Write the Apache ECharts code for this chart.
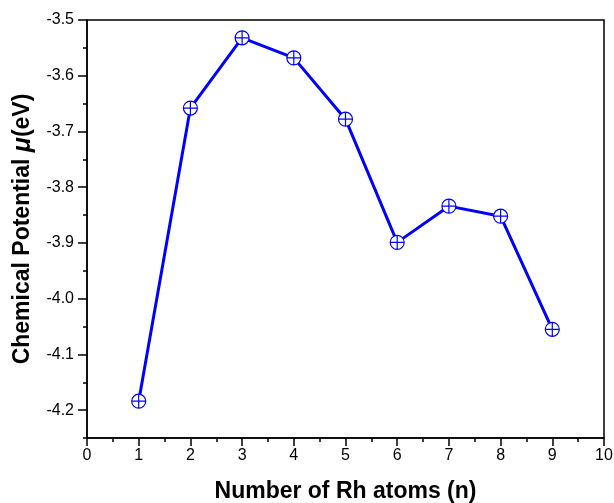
<!DOCTYPE html>
<html>
<head>
<meta charset="utf-8">
<script src="https://cdn.jsdelivr.net/npm/echarts@6/dist/echarts.min.js"></script>
<style>
  html, body { margin: 0; padding: 0; background: #fff; }
  #chart { width: 614px; height: 503px; }
</style>
</head>
<body>
<div id="chart"></div>
<script>
// data
const atoms = [1, 2, 3, 4, 5, 6, 7, 8, 9];
const potential = [-4.184, -3.658, -3.532, -3.568, -3.678, -3.899, -3.834, -3.852, -4.055];

// y tick positions
const yMajorTicks = [-4.2, -4.1, -4.0, -3.9, -3.8, -3.7, -3.6, -3.5];
const yMinorTicks = [-4.25, -4.15, -4.05, -3.95, -3.85, -3.75, -3.65, -3.55];

const font = 'Arial, "Liberation Sans", sans-serif';
const blue = '#0000ff';

// circle with a cross inside
const crossCircle = 'path://M0,10A10,10,0,1,1,20,10A10,10,0,1,1,0,10ZM10,0L10,20M0,10L20,10';

const chart = echarts.init(document.getElementById('chart'));

const option = {
  animation: false,
  grid: {
    left: 87, right: 10, top: 20, bottom: 65,
    outerBoundsMode: 'none',
    show: true, borderColor: '#000', borderWidth: 1.5
  },
  xAxis: {
    type: 'value',
    min: 0, max: 10, interval: 1,
    name: 'Number of Rh atoms (n)',
    nameLocation: 'middle',
    nameGap: 42,
    nameTextStyle: { fontFamily: font, fontSize: 23, fontWeight: 'bold', color: '#000' },
    axisLine: { lineStyle: { color: '#000', width: 1.5 } },
    axisTick: { inside: false, length: 8, lineStyle: { color: '#000', width: 1.5 } },
    minorTick: { show: true, splitNumber: 2, length: 4, lineStyle: { color: '#000', width: 1.5 } },
    axisLabel: { fontFamily: font, fontSize: 16, color: '#000', margin: 10 },
    splitLine: { show: false }
  },
  yAxis: [{
    type: 'value',
    min: -4.25, max: -3.5,
    name: '{b|Chemical Potential }{i|μ}{b|(eV)}',
    nameLocation: 'middle',
    nameGap: 51,
    nameRotate: 90,
    nameTextStyle: {
      rich: {
        b: { fontFamily: font, fontSize: 23, fontWeight: 'bold', color: '#000' },
        i: { fontFamily: font, fontSize: 25, fontWeight: 'bold', fontStyle: 'italic', color: '#000' }
      }
    },
    axisLine: { show: true, lineStyle: { color: '#000', width: 1.5 } },
    axisTick: { show: true, length: 9, customValues: yMajorTicks, lineStyle: { color: '#000', width: 1.5 } },
    axisLabel: {
      fontFamily: font, fontSize: 16, color: '#000', margin: 13,
      customValues: yMajorTicks,
      formatter: v => v.toFixed(1)
    },
    splitLine: { show: false }
  }, {
    type: 'value',
    position: 'left',
    min: -4.25, max: -3.5,
    axisLine: { show: false },
    axisTick: { show: true, length: 4, customValues: yMinorTicks, lineStyle: { color: '#000', width: 1.5 } },
    axisLabel: { show: false },
    splitLine: { show: false }
  }],
  series: [{
    type: 'line',
    yAxisIndex: 0,
    data: atoms.map((n, i) => [n, potential[i]]),
    lineStyle: { color: blue, width: 3 },
    symbol: crossCircle,
    symbolSize: 14,
    itemStyle: { color: '#fff', borderColor: blue, borderWidth: 1.2 },
    z: 3
  }]
};

chart.setOption(option);
</script>
</body>
</html>
